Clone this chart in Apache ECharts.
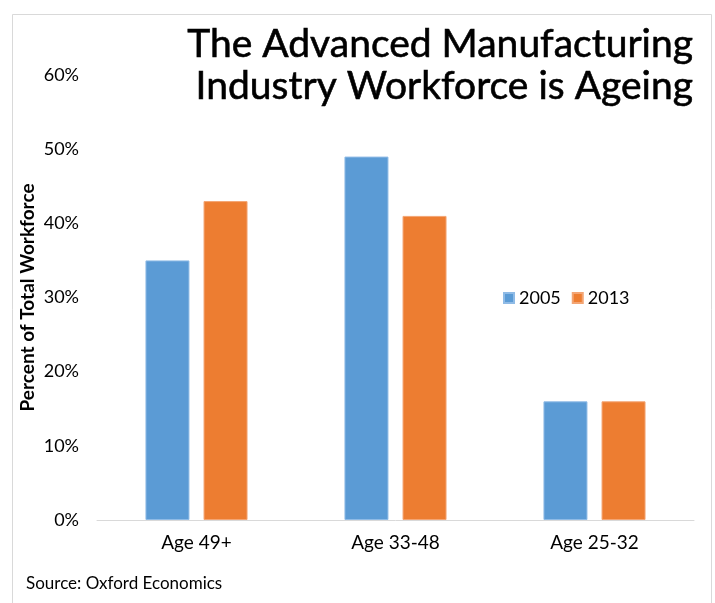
<!DOCTYPE html>
<html><head><meta charset="utf-8">
<script src="https://cdn.jsdelivr.net/npm/echarts@6/dist/echarts.min.js"></script>
<style>html,body{margin:0;padding:0;background:#fff}#c{width:715px;height:603px}</style>
</head><body><div id="c"></div>
<script>
const categories = ['Age 49+', 'Age 33-48', 'Age 25-32'];
const values2005 = [35, 49, 16];
const values2013 = [43, 41, 16];
const seriesNames = ['2005', '2013'];
const titleLines = ['The Advanced Manufacturing', 'Industry Workforce is Ageing'];
const yAxisName = 'Percent of Total Workforce';
const sourceText = 'Source: Oxford Economics';

const chart = echarts.init(document.getElementById('c'), null, {renderer: 'canvas'});
chart.setOption({
  animation: false,
  backgroundColor: '#fff',
  legend: {
    data: seriesNames,
    left: 498, top: 284,
    itemWidth: 10, itemHeight: 10, itemGap: 11,
    icon: 'rect',
    textStyle: {fontFamily: 'Lato', fontSize: 18, color: '#000'}
  },
  grid: {left: 97, right: 21, top: 75, bottom: 83},
  xAxis: {
    type: 'category', data: categories,
    axisLine: {lineStyle: {color: '#d9d9d9', width: 1}},
    axisTick: {show: false},
    axisLabel: {fontFamily: 'Lato', fontSize: 19, color: '#000', margin: 13}
  },
  yAxis: {
    type: 'value', min: 0, max: 60, interval: 10,
    name: yAxisName,
    nameLocation: 'middle', nameGap: 60, nameMoveOverlap: false,
    nameTextStyle: {fontFamily: 'Lato', fontSize: 19, fontWeight: 'bold', color: '#000'},
    axisLine: {show: false}, axisTick: {show: false},
    splitLine: {show: false},
    axisLabel: {formatter: '{value}%', fontFamily: 'Lato', fontSize: 18, color: '#000', margin: 18}
  },
  series: [
    {name: seriesNames[0], type: 'bar', data: values2005, barWidth: 44, barGap: '32%',
     itemStyle: {color: '#5B9BD5', borderColor: '#8fbbe6', borderWidth: 1}},
    {name: seriesNames[1], type: 'bar', data: values2013, barWidth: 44,
     itemStyle: {color: '#ED7D31', borderColor: '#f3a574', borderWidth: 1}}
  ],
  graphic: [
    {type: 'rect', shape: {x: 12.5, y: 14.5, width: 699, height: 600}, style: {fill: 'none', stroke: '#d9d9d9', lineWidth: 1}, silent: true},
    {type: 'text', x: 693, y: 44, style: {text: titleLines[0], font: '39px Lato', fill: '#000', stroke: '#000', lineWidth: 0.6, textAlign: 'right', textVerticalAlign: 'middle'}},
    {type: 'text', x: 693, y: 86, style: {text: titleLines[1], font: '39px Lato', fill: '#000', stroke: '#000', lineWidth: 0.6, textAlign: 'right', textVerticalAlign: 'middle'}},
    {type: 'text', x: 26, y: 584, style: {text: sourceText, font: '17px Lato', fill: '#000', textVerticalAlign: 'middle'}}
  ]
});
</script></body></html>
